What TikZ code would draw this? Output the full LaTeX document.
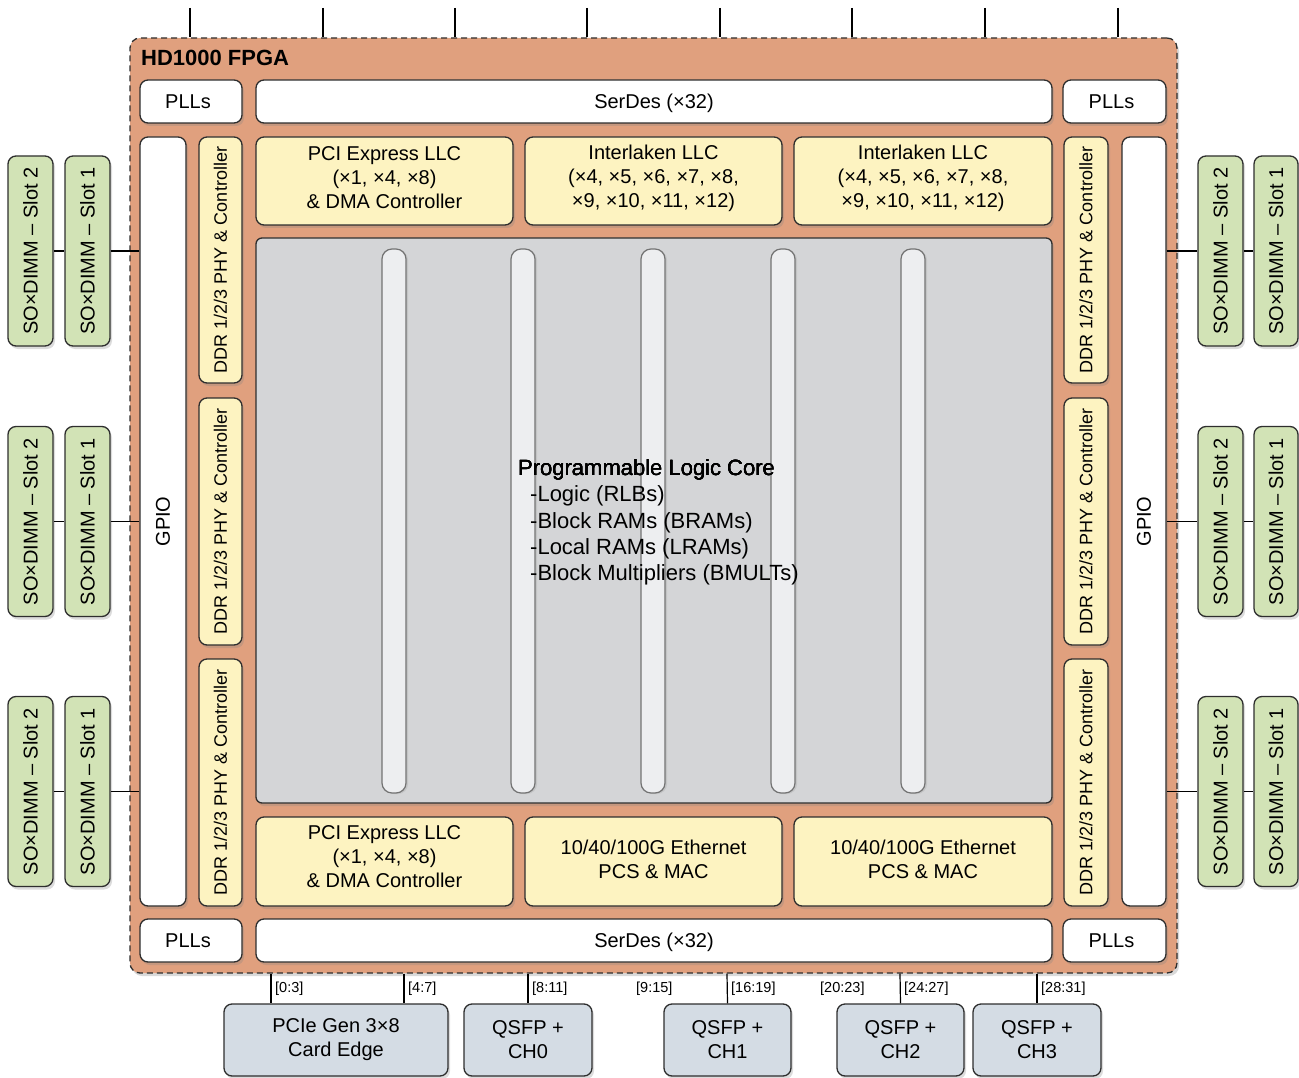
\documentclass[tikz,border=0pt]{standalone}
\usepackage{fontspec}
\setmainfont{Liberation Sans}
\usetikzlibrary{shadows}
\definecolor{fpgaC}{HTML}{E0A07E}
\definecolor{yelC}{HTML}{FDF3C1}
\definecolor{grnC}{HTML}{D2E3B6}
\definecolor{bluC}{HTML}{D4DCE4}
\definecolor{coreC}{HTML}{D4D5D7}
\definecolor{barC}{HTML}{EDEEF0}
\definecolor{lineC}{HTML}{2E2E2E}
\newcommand\mkbx[7]{\node[#1, minimum width={(#5)-(#3)}, minimum height={(#6)-(#4)}] (#2) at ({((#3)+(#5))/2},{((#4)+(#6))/2}) {#7};}
\begin{document}
\begin{tikzpicture}[x=1pt,y=-1pt,
  base/.style={draw=lineC, line width=1.3pt, rounded corners=8pt, inner sep=0pt,
    font=\fontsize{20}{24}\selectfont, align=center,
    drop shadow={opacity=0.28, shadow xshift=2pt, shadow yshift=-3pt}},
  wbox/.style={base, fill=white},
  ybox/.style={base, fill=yelC},
  gbox/.style={base, fill=grnC},
  bbox/.style={base, fill=bluC},
  corebox/.style={base, fill=coreC, rounded corners=6pt},
  barbox/.style={draw=gray!90!black, line width=1.2pt, fill=barC, rounded corners=10pt, inner sep=0pt,
    drop shadow={opacity=0.2, shadow xshift=2pt, shadow yshift=-1pt}},
  fpgabox/.style={draw=lineC, dashed, dash pattern=on 6pt off 4pt, line width=1.3pt, fill=fpgaC, rounded corners=10pt, inner sep=0pt,
    drop shadow={opacity=0.3, shadow xshift=2pt, shadow yshift=-3pt}},
  vtext/.style={rotate=90, inner sep=0pt, font=\fontsize{20}{24}\selectfont},
  dtext/.style={rotate=90, inner sep=0pt, font=\fontsize{18}{22}\selectfont},
  mtext/.style={inner sep=0pt, align=center, font=\fontsize{20}{24}\selectfont},
  ctext/.style={anchor=base west, inner sep=0pt, font=\fontsize{22}{26}\selectfont},
  lbl/.style={anchor=west, inner sep=0pt, font=\fontsize{14.5}{16}\selectfont},
  wire/.style={draw=black, line width=1.2pt}
]
\useasboundingbox (0,0) rectangle (1299,1078);

% FPGA outline
\mkbx{fpgabox}{fpga}{130}{38}{1177}{973}{}
\node[anchor=west, inner sep=0pt, font=\bfseries\fontsize{22}{24}\selectfont] (title) at (141,58) {HD1000 FPGA};

% PLLs and SerDes
\mkbx{wbox}{pllTL}{140}{80}{242}{123}{}
\mkbx{wbox}{serT}{256}{80}{1052}{123}{}
\mkbx{wbox}{pllTR}{1063}{80}{1166}{123}{}
\mkbx{wbox}{pllBL}{140}{919}{242}{962}{}
\mkbx{wbox}{serB}{256}{919}{1052}{962}{}
\mkbx{wbox}{pllBR}{1063}{919}{1166}{962}{}
\node[mtext, xshift=-3pt] (pllTLt) at (pllTL) {PLLs};
\node[mtext, yshift=-2pt] (serTt) at (serT) {SerDes (×32)};
\node[mtext, xshift=-3pt] (pllTRt) at (pllTR) {PLLs};
\node[mtext, xshift=-3pt] (pllBLt) at (pllBL) {PLLs};
\node[mtext, yshift=-2pt] (serBt) at (serB) {SerDes (×32)};
\node[mtext, xshift=-3pt] (pllBRt) at (pllBR) {PLLs};

% GPIO
\mkbx{wbox}{gpioL}{140}{137}{186}{906}{}
\node[vtext] (gpioLt) at (gpioL) {GPIO};
\mkbx{wbox}{gpioR}{1122}{137}{1166}{906}{}
\node[vtext] (gpioRt) at (gpioR) {GPIO};

% DDR columns
\mkbx{ybox}{ddrL1}{199}{137}{242}{383}{}
\mkbx{ybox}{ddrL2}{199}{398}{242}{645}{}
\mkbx{ybox}{ddrL3}{199}{659}{242}{906}{}
\mkbx{ybox}{ddrR1}{1064}{137}{1108}{383}{}
\mkbx{ybox}{ddrR2}{1064}{398}{1108}{645}{}
\mkbx{ybox}{ddrR3}{1064}{659}{1108}{906}{}
\foreach \n in {ddrL1,ddrL2,ddrL3,ddrR1,ddrR2,ddrR3}
  \node[dtext] (\n t) at (\n) {DDR 1/2/3 PHY \& Controller};

% Top LLC row
\mkbx{ybox}{pciT}{256}{137}{513}{225}{}
\mkbx{ybox}{ilk1}{525}{137}{782}{225}{}
\mkbx{ybox}{ilk2}{794}{137}{1052}{225}{}
\node[mtext, yshift=3pt] (pciTt) at (pciT) {PCI Express LLC\\(×1, ×4, ×8)\\\& DMA Controller};
\node[mtext, yshift=3pt] (ilk1t) at (ilk1) {Interlaken LLC\\(×4, ×5, ×6, ×7, ×8,\\×9, ×10, ×11, ×12)};
\node[mtext, yshift=3pt] (ilk2t) at (ilk2) {Interlaken LLC\\(×4, ×5, ×6, ×7, ×8,\\×9, ×10, ×11, ×12)};

% Core
\mkbx{corebox}{core}{256}{238}{1052}{803}{}
\foreach \cx [count=\i] in {394,523,653,783,913}
  \mkbx{barbox}{bar\i}{\cx-12}{249}{\cx+12}{793}{}
\node[ctext] (cl1) at (518,475) {Programmable Logic Core};
\node[ctext] (cl2) at (530,501) {-Logic (RLBs)};
\node[ctext] (cl3) at (530,528) {-Block RAMs (BRAMs)};
\node[ctext] (cl4) at (530,554) {-Local RAMs (LRAMs)};
\node[ctext] (cl5) at (530,580) {-Block Multipliers (BMULTs)};

% Bottom LLC row
\mkbx{ybox}{pciB}{256}{817}{513}{906}{}
\mkbx{ybox}{eth1}{525}{817}{782}{906}{}
\mkbx{ybox}{eth2}{794}{817}{1052}{906}{}
\node[mtext, yshift=5pt] (pciBt) at (pciB) {PCI Express LLC\\(×1, ×4, ×8)\\\& DMA Controller};
\node[mtext, yshift=2pt] (eth1t) at (eth1) {10/40/100G Ethernet\\PCS \& MAC};
\node[mtext, yshift=2pt] (eth2t) at (eth2) {10/40/100G Ethernet\\PCS \& MAC};

% SODIMMs left
\foreach \cy [count=\i] in {251,521.5,791.5}{
  \mkbx{gbox}{sL2\i}{8}{\cy-95}{53}{\cy+95}{}
  \mkbx{gbox}{sL1\i}{65}{\cy-95}{110}{\cy+95}{}
  \node[vtext] (sL2\i t) at (sL2\i) {SO×DIMM – Slot 2};
  \node[vtext] (sL1\i t) at (sL1\i) {SO×DIMM – Slot 1};
  \draw[wire] (sL2\i.east) -- (sL1\i.west);
  \draw[wire] (sL1\i.east) -- (gpioL.west |- sL1\i.east);
}
% SODIMMs right
\foreach \cy [count=\i] in {251,521.5,791.5}{
  \mkbx{gbox}{sR2\i}{1198}{\cy-95}{1243}{\cy+95}{}
  \mkbx{gbox}{sR1\i}{1254}{\cy-95}{1298}{\cy+95}{}
  \node[vtext] (sR2\i t) at (sR2\i) {SO×DIMM – Slot 2};
  \node[vtext] (sR1\i t) at (sR1\i) {SO×DIMM – Slot 1};
  \draw[wire] (gpioR.east |- sR2\i.west) -- (sR2\i.west);
  \draw[wire] (sR2\i.east) -- (sR1\i.west);
}

% Top wires
\foreach \tx [count=\i] in {190,323,455,587,720,852,985,1118}{
  \coordinate (top\i) at (\tx,8);
  \draw[wire] (top\i) -- (top\i |- fpga.north);
}

% Bottom connectors
\mkbx{bbox}{pcie}{224}{1004}{448}{1076}{}
\mkbx{bbox}{ch0}{464}{1004}{592}{1076}{}
\mkbx{bbox}{ch1}{664}{1004}{791}{1076}{}
\mkbx{bbox}{ch2}{837}{1004}{964}{1076}{}
\mkbx{bbox}{ch3}{973}{1004}{1101}{1076}{}
\node[mtext] (pciet) at (pcie) {PCIe Gen 3×8\\Card Edge};
\node[mtext] (ch0t) at (ch0) {QSFP +\\CH0};
\node[mtext] (ch1t) at (ch1) {QSFP +\\CH1};
\node[mtext] (ch2t) at (ch2) {QSFP +\\CH2};
\node[mtext] (ch3t) at (ch3) {QSFP +\\CH3};

\coordinate (bx1) at (271,0);
\coordinate (bx2) at (404,0);
\coordinate (bx3) at (528,0);
\coordinate (bx4) at (727,0);
\coordinate (bx5) at (900,0);
\coordinate (bx6) at (1037,0);
\draw[wire] (fpga.south -| bx1) -- (pcie.north -| bx1);
\draw[wire] (fpga.south -| bx2) -- (pcie.north -| bx2);
\draw[wire] (fpga.south -| bx3) -- (ch0.north);
\draw[wire] (fpga.south -| bx4) -- (ch1.north);
\draw[wire] (fpga.south -| bx5) -- (ch2.north);
\draw[wire] (fpga.south -| bx6) -- (ch3.north);

\node[lbl] (l1) at (275,989) {[0:3]};
\node[lbl] (l2) at (408,989) {[4:7]};
\node[lbl] (l3) at (532,989) {[8:11]};
\node[lbl] (l4) at (636,989) {[9:15]};
\node[lbl] (l5) at (731,989) {[16:19]};
\node[lbl] (l6) at (820,989) {[20:23]};
\node[lbl] (l7) at (904,989) {[24:27]};
\node[lbl] (l8) at (1041,989) {[28:31]};
\end{tikzpicture}
\end{document}
